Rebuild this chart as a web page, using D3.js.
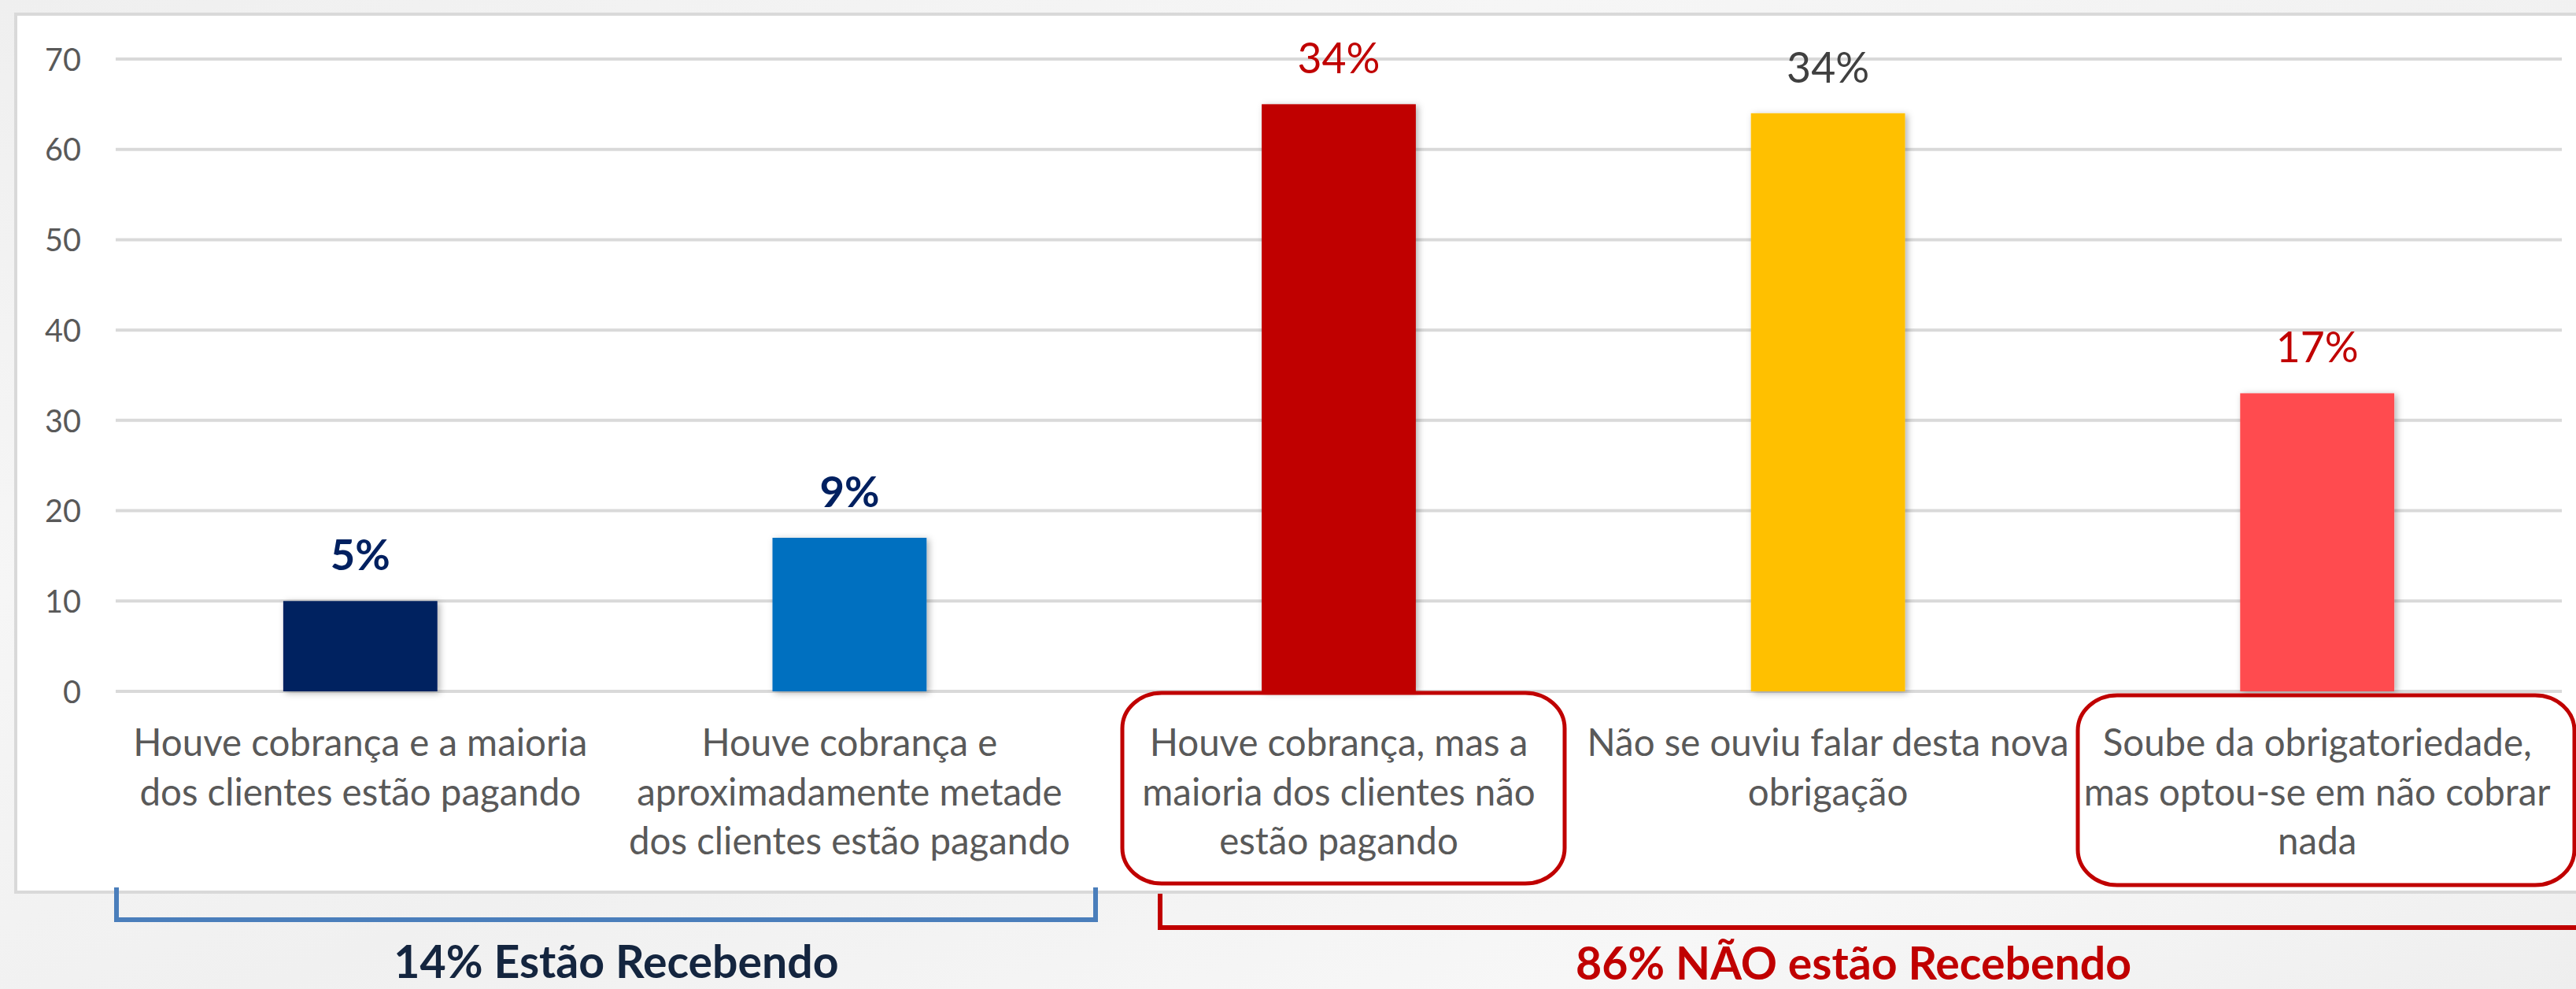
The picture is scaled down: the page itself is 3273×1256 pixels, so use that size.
<!DOCTYPE html>
<html>
<head>
<meta charset="utf-8">
<script src="https://cdn.jsdelivr.net/npm/d3@7"></script>
<style>
  html, body { margin: 0; padding: 0; background: #f2f2f2; overflow: hidden; }
  svg { display: block; }
  text { font-family: Lato, "Noto Sans", sans-serif; }
</style>
</head>
<body>
<svg id="chart" width="3273" height="1256"></svg>
<script>
// ---- data ----
const categories = [
  "Houve cobrança e a maioria dos clientes estão pagando",
  "Houve cobrança e aproximadamente metade dos clientes estão pagando",
  "Houve cobrança, mas a maioria dos clientes não estão pagando",
  "Não se ouviu falar desta nova obrigação",
  "Soube da obrigatoriedade, mas optou-se em não cobrar nada"
];
const categoryLines = [
  ["Houve cobrança e a maioria", "dos clientes estão pagando"],
  ["Houve cobrança e", "aproximadamente metade", "dos clientes estão pagando"],
  ["Houve cobrança, mas a", "maioria dos clientes não", "estão pagando"],
  ["Não se ouviu falar desta nova", "obrigação"],
  ["Soube da obrigatoriedade,", "mas optou-se em não cobrar", "nada"]
];
const values = [10, 17, 65, 64, 33];
const valueLabels = ["5%", "9%", "34%", "34%", "17%"];
const yTicks = [0, 10, 20, 30, 40, 50, 60, 70];
const barColors = ["#002060", "#0070C0", "#C00000", "#FFC000", "#FF4B4F"];
const labelColors = ["#002060", "#002060", "#C00000", "#404040", "#C00000"];
const labelWeights = [700, 700, 400, 400, 400];
const groupLabels = ["14% Estão Recebendo", "86% NÃO estão Recebendo"];

// ---- helpers ----
const ctx = document.createElement("canvas").getContext("2d");
function fitSize(str, weight, target) {
  ctx.font = `${weight} 100px Lato`;
  return 100 * target / ctx.measureText(str).width;
}

const svg = d3.select("#chart");
const W = 3273, H = 1256;

// background
const defs = svg.append("defs");
const bg = defs.append("linearGradient").attr("id", "bg")
  .attr("x1", "0%").attr("y1", "0%").attr("x2", "100%").attr("y2", "100%");
bg.append("stop").attr("offset", "0%").attr("stop-color", "#efefef");
bg.append("stop").attr("offset", "30%").attr("stop-color", "#f6f6f6");
bg.append("stop").attr("offset", "55%").attr("stop-color", "#f0f0f0");
bg.append("stop").attr("offset", "80%").attr("stop-color", "#f7f7f7");
bg.append("stop").attr("offset", "100%").attr("stop-color", "#eeeeee");
const sh = defs.append("filter").attr("id", "shadow")
  .attr("x", "-20%").attr("y", "-20%").attr("width", "140%").attr("height", "140%");
sh.append("feDropShadow").attr("dx", 3).attr("dy", 2).attr("stdDeviation", 4)
  .attr("flood-color", "#000").attr("flood-opacity", 0.3);

svg.append("rect").attr("width", W).attr("height", H).attr("fill", "url(#bg)");

// chart frame
svg.append("rect")
  .attr("x", 20).attr("y", 18).attr("width", 3300).attr("height", 1115)
  .attr("fill", "#ffffff").attr("stroke", "#d9d9d9").attr("stroke-width", 4);

// scales
const x = d3.scaleBand().domain(categories).range([147, 3255])
  .paddingInner(0.685).paddingOuter(0.3425);
const y = d3.scaleLinear().domain([0, 70]).range([878, 75]);

// gridlines
svg.append("g").selectAll("line").data(yTicks).join("line")
  .attr("x1", 147).attr("x2", 3255)
  .attr("y1", d => y(d)).attr("y2", d => y(d))
  .attr("stroke", "#d9d9d9").attr("stroke-width", 4);

// y axis labels
const tickSize = fitSize("70", 400, 46);
const yAxis = svg.append("g").attr("transform", "translate(147,0)")
  .call(d3.axisLeft(y).tickValues(yTicks).tickSize(0).tickPadding(44));
yAxis.select(".domain").remove();
yAxis.selectAll("text")
  .attr("font-family", "Lato").attr("font-size", tickSize)
  .attr("fill", "#595959").attr("dy", "0.36em");

// bars
svg.append("g").selectAll("rect").data(values).join("rect")
  .attr("x", (d, i) => x(categories[i]))
  .attr("y", d => y(d))
  .attr("width", x.bandwidth())
  .attr("height", d => y(0) - y(d))
  .attr("fill", (d, i) => barColors[i])
  .attr("filter", "url(#shadow)");

// value labels
const valSizeN = fitSize("34%", 400, 105);
const valSizeB = fitSize("5%", 700, 76);
svg.append("g").selectAll("text").data(values).join("text")
  .attr("x", (d, i) => x(categories[i]) + x.bandwidth() / 2)
  .attr("y", d => y(d) - 39)
  .attr("text-anchor", "middle")
  .attr("font-size", (d, i) => labelWeights[i] === 700 ? valSizeB : valSizeN)
  .attr("font-weight", (d, i) => labelWeights[i])
  .attr("fill", (d, i) => labelColors[i])
  .text((d, i) => valueLabels[i]);

// category labels
const catSize = fitSize("Houve cobrança e a maioria", 400, 577);
const catG = svg.append("g");
categoryLines.forEach((lines, i) => {
  const cx = x(categories[i]) + x.bandwidth() / 2;
  const t = catG.append("text")
    .attr("x", cx).attr("y", 960)
    .attr("text-anchor", "middle")
    .attr("font-size", catSize)
    .attr("fill", "#595959");
  lines.forEach((ln, j) => {
    t.append("tspan").attr("x", cx).attr("y", 960 + j * 62.5).text(ln);
  });
});

// highlight boxes around categories 3 and 5
const boxes = [
  { x1: 1426, x2: 1988, y1: 880, y2: 1122 },
  { x1: 2640, x2: 3271, y1: 883, y2: 1124 }
];
svg.append("g").selectAll("rect").data(boxes).join("rect")
  .attr("x", d => d.x1).attr("y", d => d.y1)
  .attr("width", d => d.x2 - d.x1).attr("height", d => d.y2 - d.y1)
  .attr("rx", 50).attr("ry", 45)
  .attr("fill", "none").attr("stroke", "#C00000").attr("stroke-width", 5);

// brackets
svg.append("path")
  .attr("d", "M148,1127 V1168 H1392 V1127")
  .attr("fill", "none").attr("stroke", "#4A7EBB").attr("stroke-width", 6);
svg.append("path")
  .attr("d", "M1474,1135 V1178 H3300")
  .attr("fill", "none").attr("stroke", "#C00000").attr("stroke-width", 6);

// group labels
const gs1 = fitSize(groupLabels[0], 700, 567);
const gs2 = fitSize(groupLabels[1], 700, 704);
const gSize = (gs1 + gs2) / 2;
svg.append("text").attr("x", 783).attr("y", 1242)
  .attr("text-anchor", "middle").attr("font-weight", 700)
  .attr("font-size", gSize).attr("fill", "#14253F").text(groupLabels[0]);
svg.append("text").attr("x", 2355).attr("y", 1244)
  .attr("text-anchor", "middle").attr("font-weight", 700)
  .attr("font-size", gSize).attr("fill", "#C00000").text(groupLabels[1]);
</script>
</body>
</html>
